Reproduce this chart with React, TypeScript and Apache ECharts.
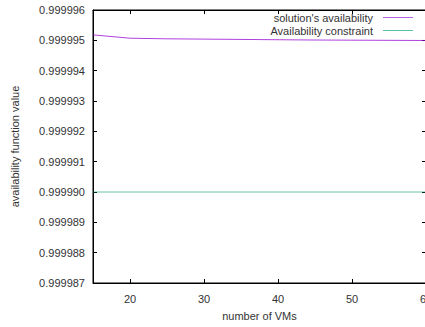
import React, { useEffect, useRef } from "react";
import * as echarts from "echarts";

const vms = [15, 20, 25, 30, 35, 40, 45, 50, 55, 60];
const solutionAvailability = [
  0.99999518, 0.99999507, 0.99999505, 0.99999504, 0.99999503, 0.99999502,
  0.99999501, 0.999995005, 0.999995, 0.999994995,
];
const constraintValue = 0.99999;
const xTicks = [20, 30, 40, 50, 60];
const seriesNames = ["solution's availability", "Availability constraint"];

export default function App() {
  const ref = useRef<HTMLDivElement>(null);
  useEffect(() => {
    document.body.style.margin = "0";
    const chart = echarts.init(ref.current!, undefined, { renderer: "svg" });
    const font = "Liberation Sans, Arial, sans-serif";
    const textColor = "#333";
    const common = {
      type: "value",
      min: 15,
      max: 60,
    };
    chart.setOption({
      animation: false,
      backgroundColor: "#fff",
      textStyle: { fontFamily: font },
      grid: {
        left: 93,
        top: 10,
        width: 333,
        height: 273,
        show: true,
        borderColor: "#000",
        borderWidth: 1,
        containLabel: false,
        outerBoundsMode: "none",
      },
      legend: {
        orient: "vertical",
        right: 12,
        top: 12,
        padding: 0,
        align: "right",
        icon: "rect",
        itemWidth: 30,
        itemHeight: 1,
        itemGap: 2,
        textStyle: { fontSize: 11, color: textColor, fontFamily: font, padding: [0, 5, 0, 0] },
        data: seriesNames,
      },
      xAxis: [
        {
          ...common,
          position: "bottom",
          name: "number of VMs",
          nameLocation: "middle",
          nameGap: 27,
          nameTextStyle: { fontSize: 11, color: textColor, fontFamily: font },
          axisLine: { show: true, lineStyle: { color: "#000" } },
          axisTick: { show: true, inside: true, length: 4, customValues: xTicks, lineStyle: { color: "#000" } },
          axisLabel: { show: true, customValues: xTicks, margin: 10, fontSize: 11, color: textColor, fontFamily: font },
          splitLine: { show: false },
        },
        {
          ...common,
          position: "top",
          axisLine: { show: true, lineStyle: { color: "#000" } },
          axisTick: { show: true, inside: true, length: 4, customValues: xTicks, lineStyle: { color: "#000" } },
          axisLabel: { show: false },
          splitLine: { show: false },
        },
      ],
      yAxis: [
        {
          type: "value",
          position: "left",
          min: 0.999987,
          max: 0.999996,
          interval: 0.000001,
          name: "availability function value",
          nameLocation: "middle",
          nameGap: 73,
          nameTextStyle: { fontSize: 11, color: textColor, fontFamily: font },
          axisLine: { show: true, lineStyle: { color: "#000" } },
          axisTick: { show: true, inside: true, length: 4, lineStyle: { color: "#000" } },
          axisLabel: { fontSize: 11, color: textColor, fontFamily: font, margin: 8, formatter: (v: number) => v.toFixed(6) },
          splitLine: { show: false },
        },
        {
          type: "value",
          position: "right",
          min: 0.999987,
          max: 0.999996,
          interval: 0.000001,
          axisLine: { show: true, lineStyle: { color: "#000" } },
          axisTick: { show: true, inside: true, length: 4, lineStyle: { color: "#000" } },
          axisLabel: { show: false },
          splitLine: { show: false },
        },
      ],
      series: [
        {
          name: seriesNames[0],
          type: "line",
          data: vms.map((x, i) => [x, solutionAvailability[i]]),
          showSymbol: false,
          symbol: "none",
          lineStyle: { color: "#9400d3", width: 1, opacity: 0.75 },
          itemStyle: { color: "#b366e0" },
        },
        {
          name: seriesNames[1],
          type: "line",
          data: vms.map((x) => [x, constraintValue]),
          showSymbol: false,
          symbol: "none",
          lineStyle: { color: "#009e73", width: 1, opacity: 0.6 },
          itemStyle: { color: "#5cbfa4" },
        },
      ],
    });
    return () => chart.dispose();
  }, []);
  return <div ref={ref} style={{ width: 425, height: 327 }} />;
}
